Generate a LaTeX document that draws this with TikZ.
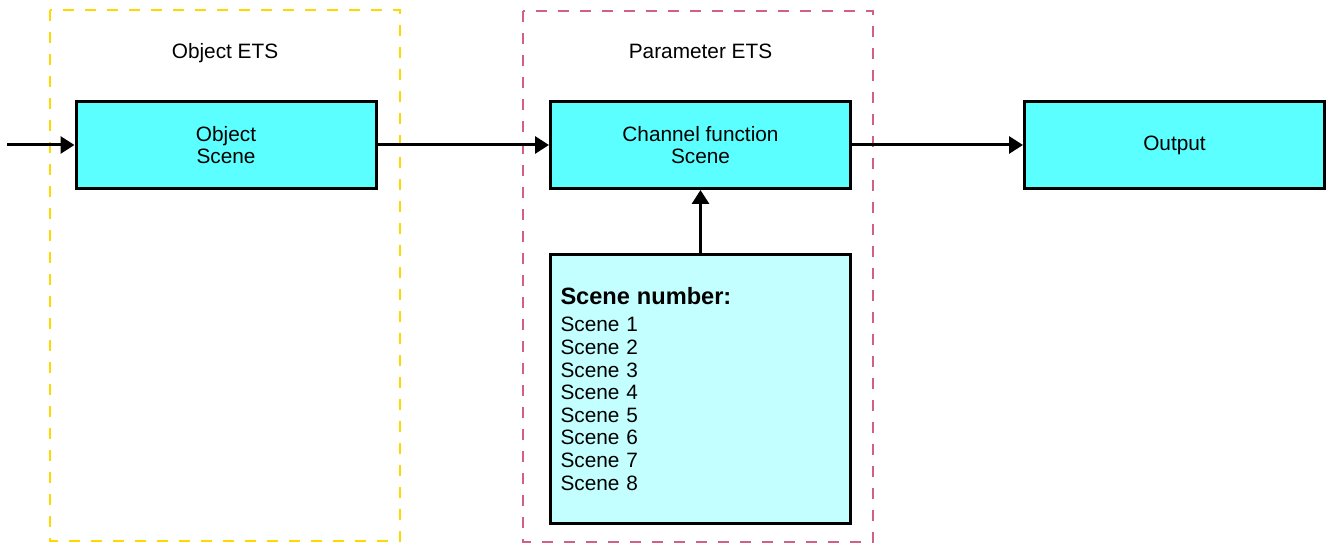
\documentclass[tikz,border=0pt]{standalone}
\usepackage{fontspec}
\setmainfont{Liberation Sans}
\usetikzlibrary{arrows.meta}
\definecolor{boxcyan}{RGB}{92,255,255}
\definecolor{listcyan}{RGB}{196,255,255}
\definecolor{etsyellow}{RGB}{255,216,0}
\definecolor{etspink}{RGB}{208,96,136}

\begin{document}
\begin{tikzpicture}[x=0.5pt, y=-0.5pt,
		block/.style={draw, line width=1.5pt, fill=boxcyan, minimum width=150pt, minimum height=43.5pt, align=center, font=\fontsize{10.4}{11.3}\selectfont},
		frame/.style={line width=1.4pt, dash pattern=on 5.5pt off 5.5pt},
		title/.style={anchor=base, font=\fontsize{10.4}{11.3}\selectfont},
		flow/.style={line width=1.5pt, -{Triangle[length=7pt, width=8.5pt]}}]
				\useasboundingbox (0,0) rectangle (1329,545);
				\draw[frame, etsyellow] (50,10) rectangle (400,541);
				\draw[frame, etspink] (523,11) rectangle (873,542);
				
				\path (225,59) node[title] (objets){Object ETS}
				(700.5,59) node[title] (parets){Parameter ETS}
				(226,145) node[block] (obj){Object\\Scene}
				(700.5,145) node[block] (chan){Channel function\\Scene}
				(1174.5,145) node[block] (out){Output}
				(700.5,389) node[block, fill=listcyan, minimum height=134.5pt, text width=140pt, align=left] (scenes){{\bfseries\fontsize{11.8}{11.3}\selectfont Scene number:}\\[2.2pt]
					Scene 1\\Scene 2\\Scene 3\\Scene 4\\Scene 5\\Scene 6\\Scene 7\\Scene 8};
				\coordinate (in) at (7,145);
				
				\draw[flow] (in) -- (obj);
				\draw[flow] (obj) -- (chan);
				\draw[flow] (chan) -- (out);
				\draw[flow] (scenes) -- (chan);
			\end{tikzpicture}
\end{document}
